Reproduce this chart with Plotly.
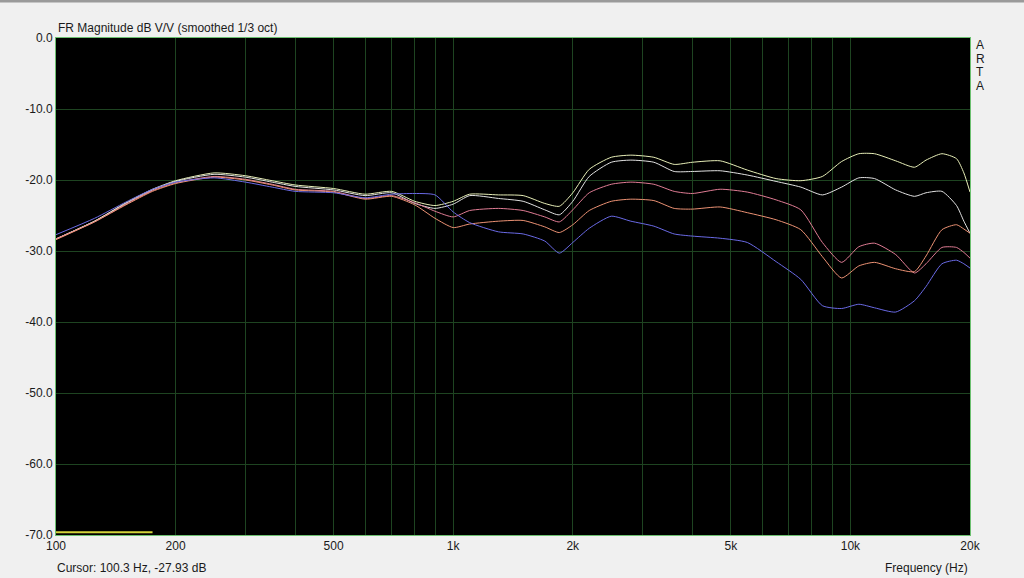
import plotly.graph_objects as go

# Frequencies (Hz)
freq = [100, 125, 150, 175, 200, 250, 300, 350, 400, 500, 600, 700, 800, 900,
        1000, 1100, 1300, 1500, 1700, 1850, 2000, 2200, 2500, 2800, 3200, 3600,
        4000, 4700, 5500, 6500, 7500, 8500, 9500, 10500, 11500, 13000, 14500,
        15500, 17000, 18500, 19300, 20000]

# Magnitudes (dB) per measurement
curve_yellow = [-28.3, -25.8, -23.2, -21.3, -20.1, -19.0, -19.4, -20.1, -20.7, -21.2,
                -22.0, -21.6, -23.0, -23.6, -23.0, -22.0, -22.1, -22.2, -23.3, -23.7,
                -21.8, -18.5, -16.8, -16.5, -16.8, -17.8, -17.5, -17.3, -18.6, -19.8,
                -20.1, -19.5, -17.4, -16.3, -16.3, -17.3, -18.2, -17.2, -16.3, -17.0,
                -19.0, -21.7]
curve_white = [-28.3, -25.8, -23.3, -21.4, -20.2, -19.2, -19.6, -20.3, -20.9, -21.4,
               -22.2, -21.8, -23.3, -24.0, -23.4, -22.2, -22.6, -23.0, -24.2, -24.9,
               -23.0, -19.5, -17.5, -17.2, -17.5, -18.8, -18.8, -18.7, -19.3, -20.2,
               -21.0, -22.1, -21.0, -19.7, -19.8, -21.4, -22.3, -21.8, -21.6, -23.6,
               -25.8, -27.5]
curve_pink = [-28.3, -25.9, -23.4, -21.5, -20.4, -19.5, -19.9, -20.6, -21.3, -21.6,
              -22.6, -22.2, -23.2, -24.4, -25.2, -24.3, -24.0, -24.3, -25.2, -25.9,
              -24.2, -21.8, -20.6, -20.3, -20.6, -21.6, -21.9, -21.3, -21.7, -22.8,
              -24.2, -28.8, -31.6, -29.4, -28.9, -30.5, -33.1, -31.8, -29.5, -29.5,
              -30.2, -31.0]
curve_orange = [-28.4, -25.9, -23.5, -21.6, -20.5, -19.6, -20.0, -20.7, -21.4, -21.7,
                -22.7, -22.3, -23.5, -25.4, -26.7, -26.2, -25.8, -25.7, -26.6, -27.4,
                -26.3, -24.3, -23.0, -22.7, -22.9, -24.0, -24.1, -23.8, -24.6, -25.6,
                -27.0, -30.8, -33.8, -32.1, -31.6, -32.5, -32.9, -30.7, -27.0, -26.3,
                -26.9, -27.5]
curve_blue = [-27.7, -25.4, -23.1, -21.3, -20.3, -19.7, -20.3, -21.0, -21.6, -21.8,
              -22.5, -22.0, -21.9, -22.1, -24.5, -26.0, -27.3, -27.6, -28.6, -30.3,
              -28.8, -26.8, -25.1, -25.8, -26.5, -27.6, -27.9, -28.2, -28.8, -31.5,
              -34.0, -37.7, -38.1, -37.5, -38.0, -38.6, -37.0, -35.0, -31.8, -31.3,
              -31.8, -32.4]

# Cursor marker line (bottom-left)
cursor_x = [100, 175]
cursor_y = [-69.6, -69.6]

# Axis ticks
x_grid = [100, 200, 300, 400, 500, 600, 700, 800, 900, 1000, 2000, 3000, 4000,
          5000, 6000, 7000, 8000, 9000, 10000, 20000]
x_text = ["100", "200", "", "", "500", "", "", "", "", "1k", "2k", "", "",
          "5k", "", "", "", "", "10k", "20k"]
y_ticks = [0, -10, -20, -30, -40, -50, -60, -70]
y_text = ["0.0", "-10.0", "-20.0", "-30.0", "-40.0", "-50.0", "-60.0", "-70.0"]
brand_letters = ["A", "R", "T", "A"]

series = [
    (curve_yellow, "#e8efb8"),
    (curve_white, "#e2e2e2"),
    (curve_pink, "#e07c94"),
    (curve_orange, "#ec9274"),
    (curve_blue, "#6a6ae6"),
]

fig = go.Figure()
for vals, col in series:
    fig.add_trace(go.Scatter(x=freq, y=vals, mode="lines",
                             line=dict(color=col, width=1, shape="spline", smoothing=0.6),
                             showlegend=False, hoverinfo="skip"))
fig.add_trace(go.Scatter(x=cursor_x, y=cursor_y, mode="lines",
                         line=dict(color="#d4d43a", width=2),
                         showlegend=False, hoverinfo="skip"))

font = "Liberation Sans, Arial, sans-serif"
annotations = [
    dict(text="FR Magnitude dB V/V (smoothed 1/3 oct)", xref="paper", yref="paper",
         x=0.0, y=1.0, xanchor="left", yanchor="bottom", yshift=1, xshift=0,
         showarrow=False, font=dict(size=12, family=font, color="#1a1a1a")),
    dict(text="Cursor: 100.3 Hz, -27.93 dB", xref="paper", yref="paper",
         x=0.0, y=0.0, xanchor="left", yanchor="top", yshift=-24, xshift=-1,
         showarrow=False, font=dict(size=12, family=font, color="#1a1a1a")),
    dict(text="Frequency (Hz)", xref="paper", yref="paper",
         x=1.0, y=0.0, xanchor="right", yanchor="top", yshift=-24, xshift=0,
         showarrow=False, font=dict(size=12, family=font, color="#1a1a1a")),
]
for i, ch in enumerate(brand_letters):
    annotations.append(dict(text=ch, xref="paper", yref="paper", x=1.0, y=1.0,
                            xanchor="center", yanchor="middle", xshift=10,
                            yshift=-7 - 13.7 * i, showarrow=False,
                            font=dict(size=12, family=font, color="#1a1a1a")))

fig.update_layout(
    width=1024, height=578,
    margin=dict(l=56, r=54, t=38, b=43),
    paper_bgcolor="#f0f0f0",
    plot_bgcolor="#000000",
    font=dict(family=font, size=12, color="#1a1a1a"),
    xaxis=dict(type="log", range=[2, 4.30103], tickvals=x_grid, ticktext=x_text,
               showgrid=True, gridcolor="#1e4421", gridwidth=1,
               showline=True, linecolor="#6cc070", linewidth=1, mirror=True,
               ticks="", zeroline=False, tickfont=dict(size=12, family=font, color="#1a1a1a")),
    yaxis=dict(range=[-70, 0], tickvals=y_ticks, ticktext=y_text,
               showgrid=True, gridcolor="#1e4421", gridwidth=1,
               showline=True, linecolor="#6cc070", linewidth=1, mirror=True,
               ticks="", zeroline=False, tickfont=dict(size=12, family=font, color="#1a1a1a")),
    shapes=[dict(type="line", xref="paper", yref="paper", x0=-0.1, x1=1.1,
                 y0=1.0 + 37/497, y1=1.0 + 37/497, line=dict(color="#9a9a9a", width=3))],
    annotations=annotations,
)

fig.write_html("out.html",
               config={"displayModeBar": False},
               post_script="document.body.style.margin='0';document.body.style.padding='0';"
                           "document.body.style.overflow='hidden';"
                           "document.documentElement.style.background='#f0f0f0';")
